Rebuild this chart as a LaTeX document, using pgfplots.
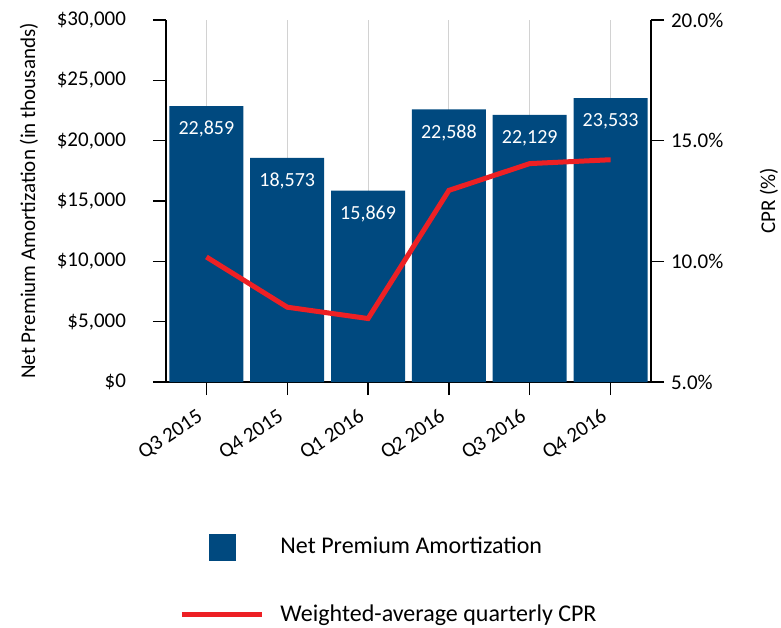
\documentclass[border=0pt]{standalone}
\usepackage{fontspec}
\setmainfont{Carlito}
\usepackage{pgfplots}
\pgfplotsset{compat=1.18}
\definecolor{barblue}{RGB}{0,73,127}
\definecolor{cprred}{RGB}{237,32,36}
\definecolor{gridgray}{RGB}{210,210,210}

\begin{document}
\begin{tikzpicture}[font=\fontsize{10.5}{12.5}\selectfont]
\useasboundingbox (-83pt,-122.5pt) rectangle (307.5pt,191pt);
\pgfplotsset{
  every axis/.append style={
    scale only axis, width=242.5pt, height=181pt,
    xmin=-0.5, xmax=5.5,
    axis line style={-, line width=1pt},
    tick align=outside, major tick length=6.5pt,
    tick style={black, line width=0.6pt},
  }
}
% bars, left axis
\begin{axis}[
  axis x line*=bottom, axis y line*=left,
  ymin=0, ymax=30000, ytick={0,5000,...,30000},
  scaled y ticks=false,
  yticklabel={\$\pgfmathprintnumber[fixed,1000 sep={,},assume math mode=true]{\tick}},
  yticklabel style={xshift=-10pt},
  xtick={0,...,5},
  xticklabels={Q3 2015,Q4 2015,Q1 2016,Q2 2016,Q3 2016,Q4 2016},
  xticklabel style={yshift=-8pt, rotate=34, anchor=east},
  xmajorgrids, grid style={gridgray, line width=0.5pt},
  ylabel={Net Premium Amortization (in thousands)},
  ylabel style={at={(axis description cs:-0.2825,0.5)}, anchor=center},
  ybar, bar width=37pt,
  nodes near coords={\pgfmathprintnumber[fixed,1000 sep={,},assume math mode=true]{\pgfplotspointmeta}},
  every node near coord/.append style={white, font=\fontsize{10}{12}\selectfont, anchor=north, yshift=-4pt},
]
\addplot[fill=barblue, draw=none] coordinates {
  (0,22859) (1,18573) (2,15869) (3,22588) (4,22129) (5,23533)
};
\end{axis}
% CPR line, right axis
\begin{axis}[
  axis y line*=right, axis x line=none,
  ymin=5, ymax=20, ytick={5,10,15,20},
  yticklabel={\pgfmathprintnumber[fixed,fixed zerofill,precision=1,assume math mode=true]{\tick}\%},
  ylabel={CPR (\%)},
  ylabel style={at={(axis description cs:1.243,0.5)}, anchor=center},
  legend style={at={(axis description cs:0.027,-0.417)}, anchor=north west,
    draw=none, fill=none, inner sep=0pt, row sep=20pt, column sep=6pt,
    font=\fontsize{12}{14}\selectfont},
  legend cell align=left,
]
\addlegendimage{legend image code/.code={\fill[barblue] (13.5pt,-6.5pt) rectangle (26.5pt,6.5pt);}}
\addlegendentry{Net Premium Amortization}
\addplot[cprred, line width=2.5pt, mark=none,
  legend image code/.code={\draw[cprred, line width=2.5pt] (0pt,0pt) -- (40pt,0pt);}]
  coordinates {
  (0,10.18) (1,8.10) (2,7.63) (3,12.94) (4,14.05) (5,14.21)
};
\addlegendentry{Weighted-average quarterly CPR}
\end{axis}
\end{tikzpicture}
\end{document}
